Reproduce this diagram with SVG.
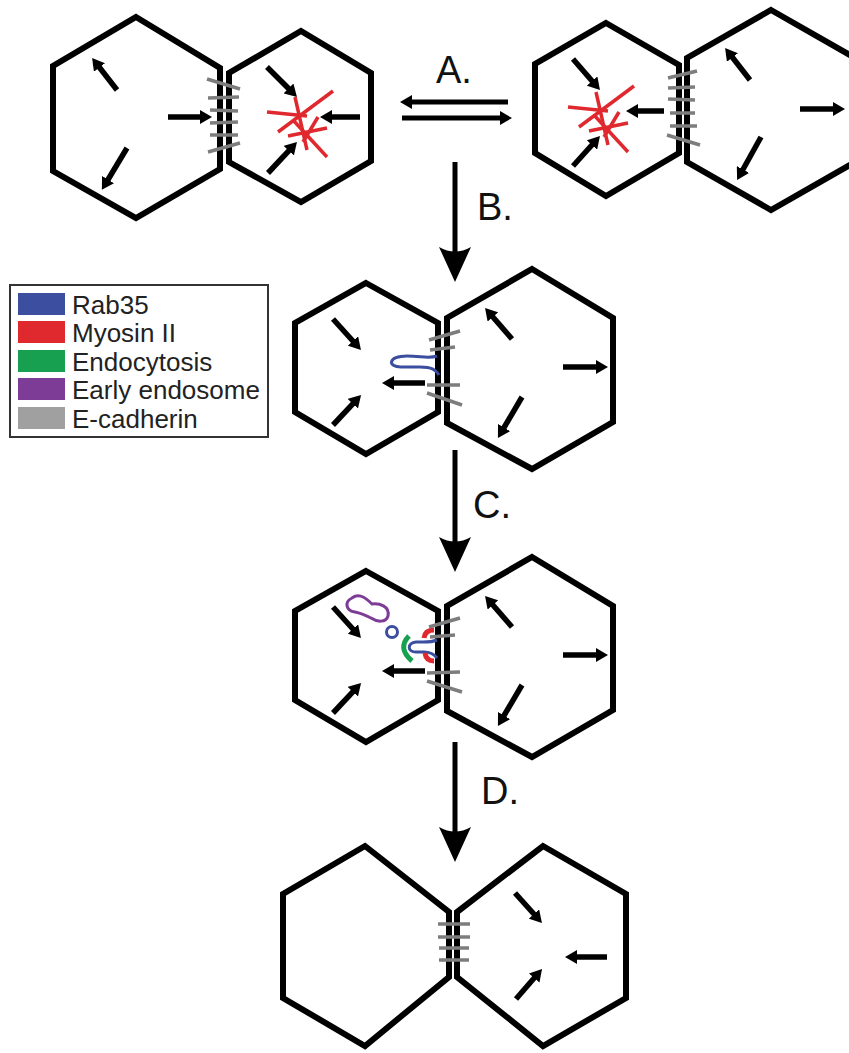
<svg xmlns="http://www.w3.org/2000/svg" width="849" height="1053" viewBox="0 0 849 1053">
  <style>
    .cell { fill: none; stroke: #000; stroke-width: 6; stroke-linejoin: miter; }
    .force { fill: none; stroke: #000; stroke-width: 5.5; marker-end: url(#ah); }
    .cad { stroke: #7d7d7d; stroke-width: 3.5; fill: none; }
    .myo { stroke: #e0292f; stroke-width: 3.5; fill: none; }
    .rab { stroke: #3b4ea0; stroke-width: 3; fill: none; }
    .shaft { stroke: #000; stroke-width: 5; fill: none; }
    .step { font-family: "Liberation Sans", Arial, sans-serif; font-size: 38px; fill: #111; }
    .leg { font-family: "Liberation Sans", Arial, sans-serif; font-size: 26px; fill: #222; }
  </style>
  <defs>
    <marker id="ah" viewBox="0 0 12 14" refX="4" refY="7" markerWidth="12" markerHeight="14" markerUnits="userSpaceOnUse" orient="auto">
      <path d="M0,0 L12,7 L0,14 z" fill="#000"/>
    </marker>
    <!-- actomyosin star, drawn around (0,0) -->
    <g id="star">
      <line class="myo" x1="-40" y1="-8" x2="0" y2="-4"/>
      <line class="myo" x1="-29" y1="12" x2="26" y2="-29"/>
      <line class="myo" x1="-12" y1="-23" x2="0" y2="30"/>
      <line class="myo" x1="-19" y1="16" x2="20" y2="8"/>
      <line class="myo" x1="-14" y1="0" x2="20" y2="37"/>
      <line class="myo" x1="11" y1="-3" x2="-4" y2="22"/>
    </g>
  </defs>

  <rect width="849" height="1053" fill="#fff"/>

  <!-- top left: pair with contracting right cell -->
  <g id="pairA-left-cell">
    <polygon class="cell" points="136,17 220,68 220,169 136,218 53,171 53,66"/>
    <line class="force" x1="117" y1="90" x2="97" y2="64.3"/>
    <line class="force" x1="127" y1="148" x2="106" y2="183"/>
    <line class="force" x1="168" y1="117" x2="204" y2="117"/>
  </g>
  <g id="pairA-right-cell">
    <polygon class="cell" points="301,31 371,73 371,161 301,202 229,162 229,73"/>
    <line class="force" x1="267" y1="67" x2="291.3" y2="91.3"/>
    <line class="force" x1="360" y1="117" x2="328" y2="117"/>
    <line class="force" x1="268" y1="173" x2="291.5" y2="147.8"/>
    <use href="#star" x="307" y="120"/>
  </g>
  <g id="pairA-junction">
    <line class="cad" x1="207" y1="79" x2="240" y2="89"/>
    <line class="cad" x1="208" y1="98" x2="239" y2="97"/>
    <line class="cad" x1="210" y1="110" x2="238" y2="111"/>
    <line class="cad" x1="210" y1="123" x2="238" y2="122"/>
    <line class="cad" x1="210" y1="135" x2="238" y2="135"/>
    <line class="cad" x1="208" y1="152" x2="240" y2="143"/>
  </g>

  <!-- top right: pair with contracting left cell -->
  <g id="pairA2-left-cell">
    <polygon class="cell" points="606,23 679,65 679,153 606,196 535,153 535,64"/>
    <line class="force" x1="573" y1="59" x2="594.7" y2="84"/>
    <line class="force" x1="664" y1="111" x2="634" y2="111"/>
    <line class="force" x1="573" y1="166" x2="594.6" y2="142"/>
    <use href="#star" x="608" y="115"/>
  </g>
  <g id="pairA2-right-cell">
    <polygon class="cell" points="771,10 855,58 855,162 771,210 687,162 687,58"/>
    <line class="force" x1="750" y1="80" x2="730" y2="54.3"/>
    <line class="force" x1="800" y1="109" x2="837" y2="109"/>
    <line class="force" x1="761" y1="137" x2="741" y2="173"/>
  </g>
  <g id="pairA2-junction">
    <line class="cad" x1="668" y1="78" x2="697" y2="71"/>
    <line class="cad" x1="668" y1="88" x2="695" y2="87"/>
    <line class="cad" x1="668" y1="99" x2="695" y2="100"/>
    <line class="cad" x1="670" y1="113" x2="695" y2="113"/>
    <line class="cad" x1="670" y1="126" x2="697" y2="126"/>
    <line class="cad" x1="667" y1="135" x2="700" y2="145"/>
  </g>

  <!-- legend -->
  <g id="legend">
    <rect x="10" y="285" width="258" height="152" fill="#fff" stroke="#333" stroke-width="2"/>
    <rect x="18" y="293" width="47" height="22" fill="#3b4ea0"/>
    <rect x="18" y="321" width="47" height="22" fill="#e0292f"/>
    <rect x="18" y="350" width="47" height="22" fill="#17a04f"/>
    <rect x="18" y="378" width="47" height="22" fill="#7d3d97"/>
    <rect x="18" y="407" width="47" height="22" fill="#a0a0a0"/>
    <text class="leg" x="72" y="314">Rab35</text>
    <text class="leg" x="72" y="342">Myosin II</text>
    <text class="leg" x="72" y="371">Endocytosis</text>
    <text class="leg" x="72" y="399">Early endosome</text>
    <text class="leg" x="72" y="428">E-cadherin</text>
  </g>

  <!-- panel B -->
  <g id="pairB-left-cell">
    <polygon class="cell" points="366,283 438,323 438,412 366,454 295,412 295,323"/>
    <line class="force" x1="333" y1="319" x2="355.6" y2="344"/>
    <line class="force" x1="333" y1="425" x2="355.6" y2="400.8"/>
    <line class="force" x1="425" y1="383" x2="390" y2="383"/>
    <path class="rab" d="M437,356 C429,359 421,356 407,356 C388,356 387,367 401,367 L420,367 C432,367 436,370 439,375"/>
  </g>
  <g id="pairB-right-cell">
    <polygon class="cell" points="532,269 613,318 613,422 532,469 447,423 447,318"/>
    <line class="force" x1="512" y1="339" x2="490.3" y2="314"/>
    <line class="force" x1="563" y1="367" x2="600" y2="367"/>
    <line class="force" x1="522" y1="397" x2="502" y2="431"/>
  </g>
  <g id="pairB-junction">
    <line class="cad" x1="429" y1="340" x2="460" y2="331"/>
    <line class="cad" x1="430" y1="350" x2="455" y2="347"/>
    <line class="cad" x1="427" y1="385" x2="460" y2="385"/>
    <line class="cad" x1="427" y1="393" x2="462" y2="405"/>
  </g>

  <!-- panel C -->
  <g id="pairC-left-cell">
    <polygon class="cell" points="366,571 438,611 438,700 366,742 295,700 295,611"/>
    <line class="force" x1="333" y1="607" x2="355.6" y2="632"/>
    <line class="force" x1="333" y1="713" x2="355.6" y2="688.8"/>
    <line class="force" x1="425" y1="671" x2="390" y2="671"/>
    <path d="M352,598 C360,592 368,600 372,604 C379,603 390,606 388,616 C386,623 377,622 371,618 C365,615 360,613 355,612 C346,611 344,602 352,598 Z" fill="none" stroke="#7d3d97" stroke-width="3"/>
    <circle cx="392" cy="632" r="5.5" fill="none" stroke="#3b4ea0" stroke-width="3"/>
    <path d="M409,636 Q397,648 412,661" fill="none" stroke="#17a04f" stroke-width="5"/>
    <path class="rab" d="M437,640 C430,643 424,642 416,642 C407,643 407,652 416,652 L424,652 C430,652 434,654 437,658"/>
    <path d="M424,638 Q425,630 434,630" fill="none" stroke="#e0292f" stroke-width="5"/>
    <path d="M425,653 Q426,661 434,661" fill="none" stroke="#e0292f" stroke-width="5"/>
  </g>
  <g id="pairC-right-cell">
    <polygon class="cell" points="532,557 613,606 613,710 532,757 447,711 447,606"/>
    <line class="force" x1="512" y1="627" x2="490.3" y2="602"/>
    <line class="force" x1="563" y1="655" x2="600" y2="655"/>
    <line class="force" x1="522" y1="685" x2="502" y2="719"/>
  </g>
  <g id="pairC-junction">
    <line class="cad" x1="429" y1="627" x2="460" y2="618"/>
    <line class="cad" x1="430" y1="637" x2="455" y2="635"/>
    <line class="cad" x1="427" y1="673" x2="460" y2="672"/>
    <line class="cad" x1="427" y1="681" x2="462" y2="692"/>
  </g>

  <!-- panel D: resolved junction -->
  <g id="pairD-left-cell">
    <polygon class="cell" points="365,846 449,912 449,977 365,1046 283,998 283,894"/>
  </g>
  <g id="pairD-right-cell">
    <polygon class="cell" points="543,846 626,894 626,998 543,1046 457,977 457,912"/>
    <line class="force" x1="515" y1="893" x2="536.6" y2="917"/>
    <line class="force" x1="607" y1="957" x2="573" y2="957"/>
    <line class="force" x1="516" y1="999" x2="536.8" y2="975"/>
  </g>
  <g id="pairD-junction">
    <line class="cad" x1="438" y1="924" x2="470" y2="924"/>
    <line class="cad" x1="438" y1="937" x2="470" y2="937"/>
    <line class="cad" x1="439" y1="948" x2="469" y2="948"/>
    <line class="cad" x1="439" y1="960" x2="469" y2="960"/>
  </g>

  <!-- transitions between states -->
  <g id="connectors">
    <line class="shaft" x1="508" y1="102" x2="410" y2="102" stroke-width="6"/>
    <path d="M400,102 L412,95 L412,109 Z" fill="#000"/>
    <line class="shaft" x1="402" y1="118" x2="502" y2="118" stroke-width="6"/>
    <path d="M512,118 L500,111 L500,125 Z" fill="#000"/>
    <text class="step" x="436" y="83">A.</text>

    <line class="shaft" x1="455" y1="162" x2="455" y2="256"/>
    <path d="M455,282 L439,247 Q455,256 471,247 Z" fill="#000"/>
    <text class="step" x="477" y="220">B.</text>

    <line class="shaft" x1="455" y1="450" x2="455" y2="546"/>
    <path d="M455,572 L439,537 Q455,546 471,537 Z" fill="#000"/>
    <text class="step" x="473" y="518">C.</text>

    <line class="shaft" x1="455" y1="742" x2="455" y2="836"/>
    <path d="M455,862 L439,827 Q455,836 471,827 Z" fill="#000"/>
    <text class="step" x="481" y="804">D.</text>
  </g>
</svg>
